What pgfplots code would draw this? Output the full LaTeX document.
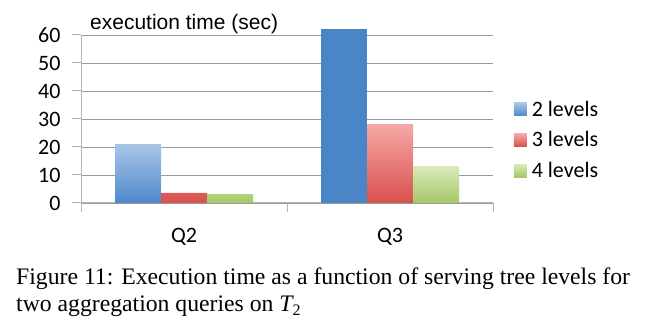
\documentclass[border=0pt]{standalone}
\usepackage{pgfplots}
\pgfplotsset{compat=1.18}
\usepackage{fontspec}
\setmainfont{Liberation Serif}
\newfontfamily\calibri{Carlito}
\newfontfamily\arial{Liberation Sans}
\definecolor{bluetop}{HTML}{A9C6E9}
\definecolor{bluebot}{HTML}{4F88CA}
\definecolor{blueflat}{HTML}{4A85C7}
\definecolor{redtop}{HTML}{F5A9A7}
\definecolor{redbot}{HTML}{D8504C}
\definecolor{greentop}{HTML}{DAEAB9}
\definecolor{greenbot}{HTML}{A6C766}
\definecolor{gridc}{HTML}{9A9A9A}
\definecolor{axisc}{HTML}{B4B4B4}
\begin{document}
\begin{tikzpicture}[x=1pt,y=1pt]
\path[use as bounding box] (0,0) rectangle (668,336);
\begin{axis}[
  at={(81pt,133pt)}, anchor=south west,
  scale only axis, width=412pt, height=168pt,
  xmin=0, xmax=2, ymin=0, ymax=60,
  clip=false,
  axis x line*=bottom, axis y line*=left,
  axis line style={axisc, line width=1pt},
  ymajorgrids, grid style={gridc, line width=0.9pt},
  ytick={0,10,...,60},
  xtick={0,1,2}, xticklabels={},
  extra x ticks={0.5,1.5}, extra x tick labels={Q2,Q3},
  extra x tick style={major tick length=0pt, grid=none,
     xticklabel style={yshift=-22pt}},
  tick align=outside, major tick length=9pt,
  tick style={axisc, line width=1pt},
  /pgf/number format/assume math mode=true,
  tick label style={font=\calibri\fontsize{22}{26}\selectfont},
  yticklabel style={xshift=-8pt},
  ybar, bar width=46pt,
  legend image code/.code={\path[#1,draw=none] (0pt,-6.5pt) rectangle (13pt,6.5pt);},
  legend style={at={(1.05,0.375)}, anchor=west, draw=none, fill=none,
     font=\calibri\fontsize{22}{26}\selectfont, row sep=10pt, column sep=3pt,
     inner sep=0pt, cells={anchor=west}},
]
\addplot[bar shift=-46pt, draw=none, top color=bluetop, bottom color=bluebot] coordinates {(0.5,21)};
\addlegendentry{2 levels}
\addplot[bar shift=0pt, draw=none, top color=redtop, bottom color=redbot] coordinates {(0.5,3.6) (1.5,28.2)};
\addlegendentry{3 levels}
\addplot[bar shift=46pt, draw=none, top color=greentop, bottom color=greenbot] coordinates {(0.5,3.2) (1.5,13.2)};
\addlegendentry{4 levels}
\addplot[forget plot, bar shift=-46pt, draw=none, fill=blueflat] coordinates {(1.5,62)};
\end{axis}
\node[anchor=base west, inner sep=0pt, font=\arial\fontsize{21}{25}\selectfont] at (90,306) {execution time (sec)};
\node[anchor=base west, inner sep=0pt, font=\fontsize{23.7}{28}\selectfont] at (16,51) {Figure 11: Execution time as a function of serving tree levels for};
\node[anchor=base west, inner sep=0pt, font=\fontsize{23.7}{28}\selectfont] at (16,24) {two aggregation queries on {\itshape T}\raisebox{-0.3ex}{\fontsize{16}{18}\selectfont 2}};
\end{tikzpicture}
\end{document}
